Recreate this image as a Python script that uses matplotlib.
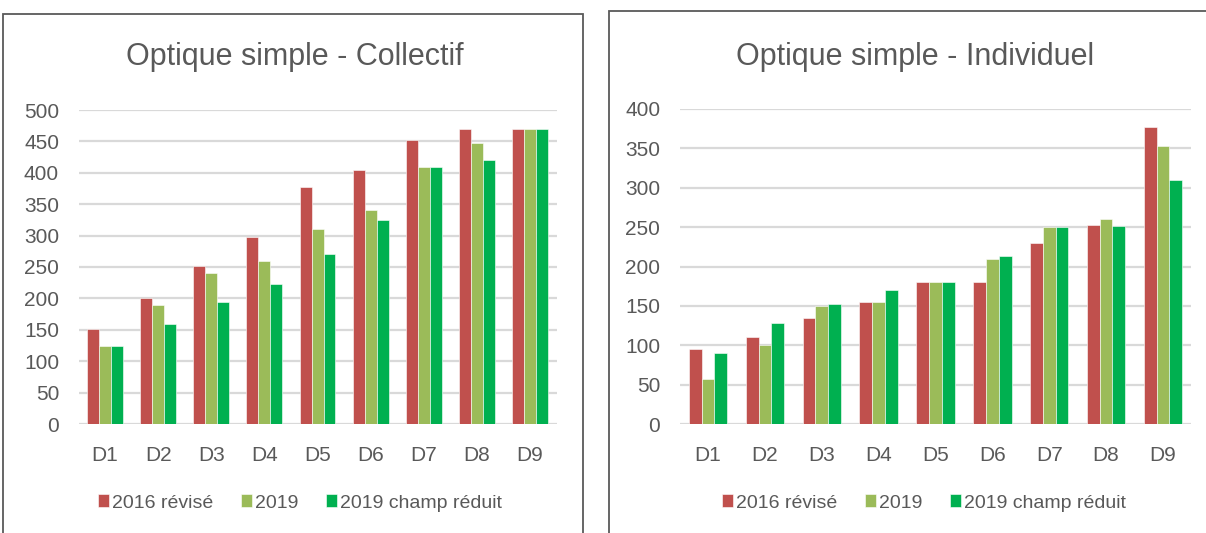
import numpy as np
import matplotlib
matplotlib.use("Agg")
import matplotlib.pyplot as plt
from matplotlib.patches import Rectangle

plt.rcParams['font.family'] = ['Liberation Sans Narrow', 'Liberation Sans', 'DejaVu Sans']

deciles = ['D1', 'D2', 'D3', 'D4', 'D5', 'D6', 'D7', 'D8', 'D9']
series_names = ['2016 révisé', '2019', '2019 champ réduit']
colors = ['#C0504D', '#9BBB59', '#00B050']

# Optique simple - Collectif
coll_2016 = [152, 200, 252, 298, 377, 405, 453, 470, 470]
coll_2019 = [125, 190, 240, 260, 310, 340, 410, 447, 470]
coll_2019_red = [125, 160, 195, 223, 270, 325, 410, 420, 470]

# Optique simple - Individuel
ind_2016 = [95, 110, 134, 155, 180, 180, 230, 253, 377]
ind_2019 = [57, 100, 150, 155, 180, 210, 250, 260, 353]
ind_2019_red = [90, 128, 153, 170, 180, 213, 250, 251, 310]

text_col = '#595959'
W, H = 1206, 533


def draw_panel(fig, rect, title, title_x, data, ymax, legend_x):
    ax = fig.add_axes(rect)
    x = np.arange(len(deciles))
    bw = 0.225
    for i, (vals, c) in enumerate(zip(data, colors)):
        ax.bar(x + (i - 1) * bw, vals, width=bw, color=c, label=series_names[i],
               edgecolor='white', linewidth=0.4, zorder=3)
    ax.set_xlim(-0.5, len(deciles) - 0.5)
    ax.set_ylim(0, ymax)
    ax.set_yticks(np.arange(0, ymax + 1, 50))
    ax.set_xticks(x)
    ax.set_xticklabels(deciles)
    ax.tick_params(length=0, labelsize=15, colors=text_col)
    ax.tick_params(axis='x', pad=16)
    ax.tick_params(axis='y', pad=14)
    for s in ax.spines.values():
        s.set_visible(False)
    ax.grid(axis='y', color='#D9D9D9', linewidth=1.6, zorder=0)
    ax.set_axisbelow(True)
    fig.text(title_x, 1 - 57 / H, title, fontsize=22, color=text_col,
             ha='center', va='center')
    handles, labels = ax.get_legend_handles_labels()
    fig.legend(handles, labels, loc='center', bbox_to_anchor=(legend_x, 1 - 503 / H),
               ncol=3, frameon=False, fontsize=14, labelcolor=text_col,
               handlelength=0.6, handleheight=0.6, handletextpad=0.15,
               columnspacing=1.4)
    return ax


fig = plt.figure(figsize=(W / 100, H / 100), dpi=100)

# panel borders
fig.patches.append(Rectangle((3 / W, -0.1), 580 / W, 1.1 - 14 / H,
                             transform=fig.transFigure, fill=False,
                             edgecolor='#595959', linewidth=1.3))
fig.patches.append(Rectangle((609 / W, -0.1), 700 / W, 1.1 - 11 / H,
                             transform=fig.transFigure, fill=False,
                             edgecolor='#595959', linewidth=1.3))

bottom = (H - 424) / H
draw_panel(fig, [78.5 / W, bottom, (556.6 - 78.5) / W, (424 - 110) / H],
           'Optique simple - Collectif', 295 / W,
           [coll_2016, coll_2019, coll_2019_red], 500, 300 / W)
draw_panel(fig, [679.6 / W, bottom, (1191.4 - 679.6) / W, (424 - 109) / H],
           'Optique simple - Individuel', 915 / W,
           [ind_2016, ind_2019, ind_2019_red], 400, 924 / W)

fig.savefig('out.png', dpi=100)
